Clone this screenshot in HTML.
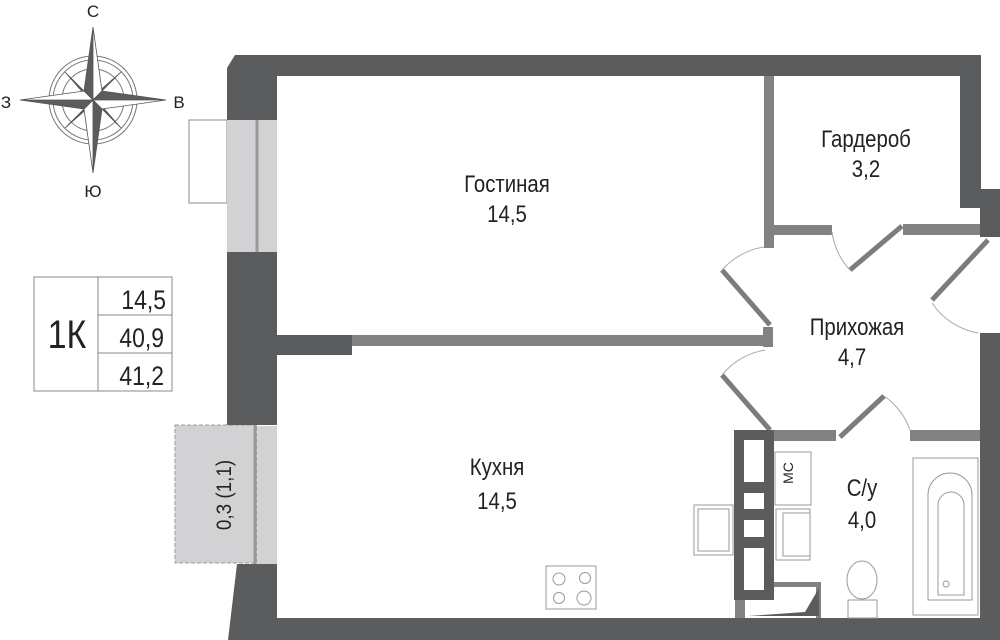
<!DOCTYPE html>
<html><head><meta charset="utf-8"><style>
html,body{margin:0;padding:0;background:#fff;width:1000px;height:640px;overflow:hidden}
svg{display:block}
text{font-family:"Liberation Sans",sans-serif;fill:#222}
</style></head><body>
<svg width="1000" height="640" viewBox="0 0 1000 640">
<!-- compass -->
<g transform="translate(93,100)">
<circle r="44" fill="none" stroke="#777" stroke-width="1"/>
<circle r="40" fill="none" stroke="#777" stroke-width="1"/>
<circle r="31" fill="none" stroke="#777" stroke-width="1"/>
<g fill="#5a5c5e" stroke="#555" stroke-width="0.8">
<polygon points="0,0 -28,-28 -7,-4" /><polygon points="0,0 28,-28 4,-7"/><polygon points="0,0 -28,28 -4,7"/><polygon points="0,0 28,28 7,4"/>
<polygon points="0,-73 -9,-9 0,0" /><polygon points="0,-73 9,-9 0,0" fill="#fff"/>
<polygon points="73,0 9,-9 0,0"/><polygon points="73,0 9,9 0,0" fill="#fff"/>
<polygon points="0,73 9,9 0,0"/><polygon points="0,73 -9,9 0,0" fill="#fff"/>
<polygon points="-73,0 -9,9 0,0"/><polygon points="-73,0 -9,-9 0,0" fill="#fff"/>
</g></g>
<text x="93" y="17" font-size="17" text-anchor="middle">С</text>
<text x="93" y="197" font-size="17" text-anchor="middle">Ю</text>
<text x="6" y="108" font-size="17" text-anchor="middle">З</text>
<text x="179" y="108" font-size="17" text-anchor="middle">В</text>
<!-- legend -->
<g fill="none" stroke="#888" stroke-width="1">
<rect x="34" y="277" width="138" height="114"/>
<line x1="98" y1="277" x2="98" y2="391"/>
<line x1="98" y1="315" x2="172" y2="315"/>
<line x1="98" y1="353" x2="172" y2="353"/>
</g>
<text x="67" y="348" font-size="40" text-anchor="middle" transform="translate(67,0) scale(0.85,1) translate(-67,0)">1К</text>
<g font-size="27" text-anchor="end">
<text x="166" y="309" transform="translate(166,0) scale(0.85,1) translate(-166,0)">14,5</text>
<text x="164" y="347" transform="translate(164,0) scale(0.85,1) translate(-164,0)">40,9</text>
<text x="164" y="385" transform="translate(164,0) scale(0.85,1) translate(-164,0)">41,2</text>
</g>
<!-- windows -->
<rect x="189" y="120" width="38" height="83" fill="#fff" stroke="#888"/>
<rect x="227" y="120" width="50" height="132" fill="#d2d2d4"/>
<line x1="257" y1="116" x2="257" y2="255" stroke="#999" stroke-width="3"/>
<rect x="175" y="425" width="82" height="138" fill="#d2d2d4" stroke="#999" stroke-dasharray="4,2"/>
<rect x="257" y="426" width="20" height="138" fill="#d2d2d4"/>
<line x1="255" y1="423" x2="255" y2="566" stroke="#999" stroke-width="3"/>
<!-- outer walls -->
<g fill="#5a5c5e">
<polygon points="235,55 981,55 981,208 960,208 960,76 277,76 277,120 227,120 227,68"/>
<rect x="227" y="252" width="50" height="173"/>
<polygon points="237,564 277,564 277,640 228,640"/>
<rect x="277" y="618" width="723" height="22"/>
<rect x="980" y="189" width="20" height="48"/>
<rect x="980" y="333" width="20" height="307"/>
<rect x="277" y="335" width="75" height="20"/>
</g>
<!-- partitions -->
<g fill="#808284">
<rect x="352" y="335" width="418" height="11"/>
<rect x="763" y="327" width="10" height="20"/>
<rect x="764" y="76" width="10" height="172"/>
<rect x="773" y="225" width="59" height="10"/>
<rect x="903" y="224" width="77" height="11"/>
<rect x="770" y="430" width="66" height="11"/>
<rect x="910" y="430" width="70" height="11"/>
<rect x="774" y="582" width="47" height="5"/>
<rect x="816" y="582" width="5" height="36"/>
<rect x="735" y="600" width="10" height="18"/>
</g>
<polygon points="748,616 805,612 819,588 819,616" fill="#5a5c5e"/>
<!-- doors -->
<g stroke="#7a7c7e" stroke-width="5">
<line x1="902" y1="226" x2="850" y2="270"/>
<line x1="988" y1="240" x2="932" y2="300"/>
<line x1="722" y1="270" x2="770" y2="325"/>
<line x1="722" y1="375" x2="770" y2="430"/>
<line x1="840" y1="437" x2="884" y2="396"/>
</g>
<g fill="none" stroke="#aaa" stroke-width="1">
<path d="M832,232 A70,70 0 0 0 850,270"/>
<path d="M932,303 A70,70 0 0 0 978,333"/>
<path d="M722,270 A70,70 0 0 1 764,247"/>
<path d="M722,375 A70,70 0 0 1 765,350"/>
<path d="M884,396 A70,70 0 0 1 910,430"/>
</g>
<!-- shelves frame -->
<rect x="734" y="430" width="40" height="170" fill="#5a5c5e"/>
<g fill="#fff">
<polygon points="744,440 764,440 764,482 744,482"/>
<rect x="744" y="493" width="20" height="16"/>
<rect x="744" y="520" width="20" height="17"/>
<rect x="744" y="548" width="20" height="42"/>
</g>
<!-- fixtures -->
<g fill="none" stroke="#999" stroke-width="1">
<rect x="775" y="452" width="36" height="53"/>
<rect x="694" y="505" width="39" height="50"/>
<rect x="698" y="509" width="31" height="42"/>
<rect x="776" y="509" width="34" height="51"/>
<rect x="783" y="513" width="27" height="43"/>
<rect x="913" y="458" width="65" height="157"/>
<path d="M928,600 V495 A22,22 0 0 1 972,495 V600 Z"/>
<path d="M938,595 V505 A13,13 0 0 1 964,505 V595 Z"/>
<circle cx="946" cy="584" r="3"/>
<ellipse cx="862" cy="580" rx="15" ry="19"/>
<rect x="848" y="600" width="29" height="18"/>
<rect x="546" y="566" width="50" height="43"/>
<circle cx="559" cy="579" r="6"/><circle cx="585" cy="578" r="5.5"/>
<circle cx="559" cy="598" r="5.5"/><circle cx="584" cy="598" r="7"/>
</g>
<text x="799" y="479" font-size="14" fill="#444" text-anchor="middle" transform="rotate(-90 793 479)">МС</text>
<!-- labels -->
<g font-size="24" text-anchor="middle">
<text x="507" y="192" transform="translate(507,0) scale(0.85,1) translate(-507,0)">Гостиная</text>
<text x="507" y="222" transform="translate(507,0) scale(0.85,1) translate(-507,0)">14,5</text>
<text x="866" y="147" transform="translate(866,0) scale(0.85,1) translate(-866,0)">Гардероб</text>
<text x="866" y="177" transform="translate(866,0) scale(0.85,1) translate(-866,0)">3,2</text>
<text x="857" y="335" transform="translate(857,0) scale(0.85,1) translate(-857,0)">Прихожая</text>
<text x="852" y="365" transform="translate(852,0) scale(0.85,1) translate(-852,0)">4,7</text>
<text x="497" y="475" transform="translate(497,0) scale(0.85,1) translate(-497,0)">Кухня</text>
<text x="497" y="509" transform="translate(497,0) scale(0.85,1) translate(-497,0)">14,5</text>
<text x="862" y="496" transform="translate(862,0) scale(0.85,1) translate(-862,0)">С/у</text>
<text x="862" y="528" transform="translate(862,0) scale(0.85,1) translate(-862,0)">4,0</text>
<text x="224" y="502" transform="rotate(-90 224 495) translate(224,0) scale(0.9,1) translate(-224,0)" font-size="21">0,3 (1,1)</text>
</g>
</svg>
</body></html>
